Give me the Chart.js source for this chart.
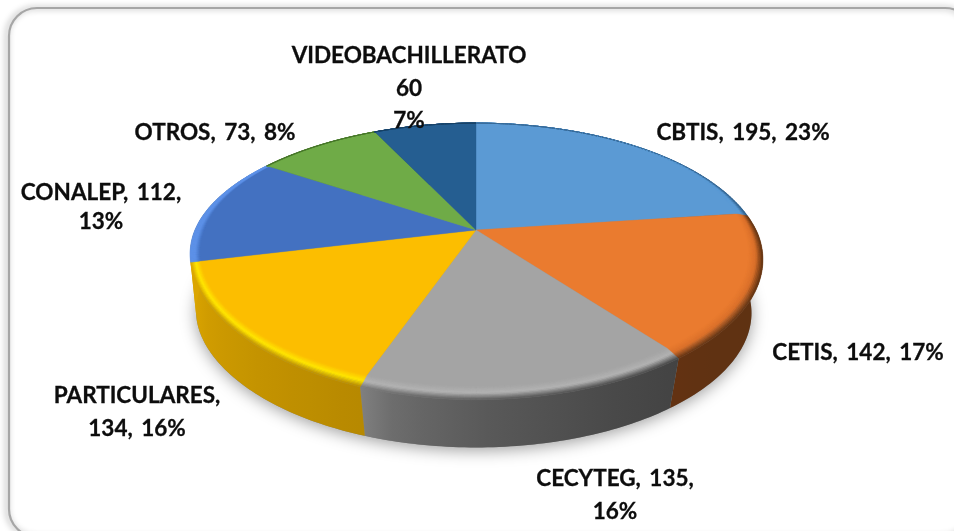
<!DOCTYPE html>
<html><head><meta charset="utf-8">
<style>html,body{margin:0;padding:0;background:#fff}canvas{display:block}</style>
<script src="https://cdn.jsdelivr.net/npm/chart.js@4"></script>
</head><body><canvas id="c" width="954" height="531"></canvas>
<script>
const categories = ["CBTIS","CETIS","CECYTEG","PARTICULARES","CONALEP","OTROS","VIDEOBACHILLERATO"];
const values = [195,142,135,134,112,73,60];
const percents = [23,17,16,16,13,8,7];
const colors = ["#5b9ad4","#ea7b2f","#a4a4a4","#fcbe00","#4371c1","#6fab47","#255e91"];
const wallLeft = ["#2f5e8a","#633212","#808080","#dba500","#dba500","#3f6b26","#153a5c"];
const wallRight = ["#2f5e8a","#5f3212","#434343","#b78900","#dba500","#3f6b26","#153a5c"];
const rimPeak = ["#5b9ad4","#d9702a","#b4b4b4","#ffe800","#5e92e8","#6fab47","#255e91"];

const view = {cx:476, cy:230, a:276, b:129, k:0.207, depth:58, lower:0.98};
const labelLayout = [
  {x:743,y:133,lines:i=>[`${categories[i]}, ${values[i]}, ${percents[i]}%`]},
  {x:858,y:353,lines:i=>[`${categories[i]}, ${values[i]}, ${percents[i]}%`]},
  {x:615,y:479,step:33,lines:i=>[`${categories[i]}, ${values[i]},`,`${percents[i]}%`]},
  {x:137,y:396,step:33,lines:i=>[`${categories[i]},`,`${values[i]}, ${percents[i]}%`]},
  {x:101,y:193,step:29,lines:i=>[`${categories[i]}, ${values[i]},`,`${percents[i]}%`]},
  {x:215,y:133,lines:i=>[`${categories[i]}, ${values[i]}, ${percents[i]}%`]},
  {x:409,y:56,step:32.5,lines:i=>[`${categories[i]}`,`${values[i]}`,`${percents[i]}%`]}
];

function rgb(h){return [1,3,5].map(p=>parseInt(h.substr(p,2),16));}
function mix(a,b,t){const A=rgb(a),B=rgb(b);return '#'+A.map((v,i)=>Math.round(v+(B[i]-v)*t).toString(16).padStart(2,'0')).join('');}
function P(th,r,h,low){
  const u=r*Math.sin(th), y=-r*Math.cos(th), s=1/(1-view.k*y);
  const a=view.a-5*y+5*Math.pow(Math.max(0,-u),6), f=low?view.lower:1;
  return [view.cx+a*u*s*f, view.cy+view.b*y*s*f+h];
}
function samples(a,b){const n=Math.max(2,Math.ceil((b-a)/(Math.PI/180)));const o=[];for(let i=0;i<=n;i++)o.push(a+(b-a)*i/n);return o;}
function poly(ctx,pts){ctx.beginPath();pts.forEach((p,i)=>i?ctx.lineTo(p[0],p[1]):ctx.moveTo(p[0],p[1]));ctx.closePath();}
const bandW=th=>Math.min(1,1-Math.cos(th));
const extW=th=>bandW(th)*(1-Math.pow(Math.max(0,-Math.sin(th)),2));
const band=(t,f)=>{const W=bandW(t),E=extW(t),r0=1-0.03*W,r1=1+0.02*E;return P(t,r0+(r1-r0)*f,3*E*f);};
const outer=t=>band(t,1);
const wallEase=0.5;

const pie3d={
  id:'pie3d',
  beforeDraw(chart){
    const ctx=chart.ctx;ctx.save();
    ctx.fillStyle='#fff';ctx.fillRect(0,0,954,531);
    ctx.shadowColor='rgba(0,0,0,0.4)';ctx.shadowBlur=6;ctx.shadowOffsetX=-2;
    ctx.strokeStyle='#a6a6a6';ctx.lineWidth=2.2;
    ctx.beginPath();ctx.roundRect(9,8,964,529,28);ctx.stroke();
    ctx.restore();
  },
  beforeDatasetDraw(chart){
    const ctx=chart.ctx, arcs=chart.getDatasetMeta(0).data;
    const ang=arcs.map(el=>[el.startAngle+Math.PI/2, el.endAngle+Math.PI/2]);
    ctx.save();
    const ring=samples(0,Math.PI*2).map(t=>P(t,1,view.depth,true));
    ctx.save();ctx.shadowColor='rgba(0,0,0,0.38)';ctx.shadowBlur=16;ctx.shadowOffsetY=3;
    ctx.fillStyle='#888';poly(ctx,ring);ctx.fill();ctx.restore();
    const wallColor=(i,x,x0,x1)=>mix(wallLeft[i],wallRight[i],Math.pow(Math.min(1,Math.max(0,(x-x0)/Math.max(1,x1-x0))),wallEase));
    const spans=ang.map(([a,b])=>{const xs=samples(a,b).map(t=>outer(t)[0]);return [Math.min(...xs),Math.max(...xs)];});
    ang.forEach(([a,b],i)=>{
      const ts=samples(a,b);
      const g=ctx.createLinearGradient(spans[i][0],0,spans[i][1],0);
      for(let q=0;q<=10;q++)g.addColorStop(q/10,mix(wallLeft[i],wallRight[i],Math.pow(q/10,wallEase)));
      poly(ctx,ts.map(outer).concat(ts.slice().reverse().map(t=>P(t,1,view.depth,true))));
      ctx.fillStyle=g;ctx.fill();
    });
    ang.forEach(([a,b],i)=>{
      poly(ctx,[[view.cx,view.cy]].concat(samples(a,b).map(t=>P(t,1,0))));
      ctx.fillStyle=arcs[i].options.backgroundColor;ctx.strokeStyle=ctx.fillStyle;ctx.lineWidth=0.4;ctx.fill();ctx.stroke();
    });
    const N=10;
    ang.forEach(([a,b],i)=>{
      const ts=samples(a,b), base=arcs[i].options.backgroundColor;
      for(let j=0;j<ts.length-1;j++){
        const t0=ts[j],t1=ts[j+1],tm=(t0+t1)/2;
        const wc=i===4?rimPeak[i]:wallColor(i,P(tm,1,0)[0],spans[i][0],spans[i][1]);
        for(let q=0;q<N;q++){
          const f0=q/N,f1=(q+1)/N,fm=(f0+f1)/2;
          const c=fm<0.5?mix(base,rimPeak[i],fm/0.5):mix(rimPeak[i],wc,(fm-0.5)/0.5);
          poly(ctx,[band(t0,f0),band(t1,f0),band(t1,f1),band(t0,f1)]);
          ctx.fillStyle=c;ctx.strokeStyle=c;ctx.lineWidth=0.5;ctx.fill();ctx.stroke();
        }
      }
    });
    ctx.restore();
    return false;
  },
  afterDraw(chart){
    const ctx=chart.ctx;ctx.save();
    ctx.fillStyle='#0d0d0d';ctx.strokeStyle='#0d0d0d';ctx.lineWidth=0.3;ctx.font='bold 22.5px Lato, Carlito, sans-serif';
    ctx.wordSpacing='3px';
    ctx.textAlign='center';ctx.textBaseline='middle';
    labelLayout.forEach((l,i)=>l.lines(i).forEach((s,k)=>{ctx.fillText(s,l.x,l.y+k*(l.step||0));ctx.strokeText(s,l.x,l.y+k*(l.step||0));}));
    ctx.restore();
  }
};
new Chart(document.getElementById('c'),{
  type:'pie',
  data:{labels:categories,datasets:[{data:values,backgroundColor:colors,borderWidth:0}]},
  options:{responsive:false,animation:false,plugins:{legend:{display:false},tooltip:{enabled:false}}},
  plugins:[pie3d]
});
</script></body></html>
